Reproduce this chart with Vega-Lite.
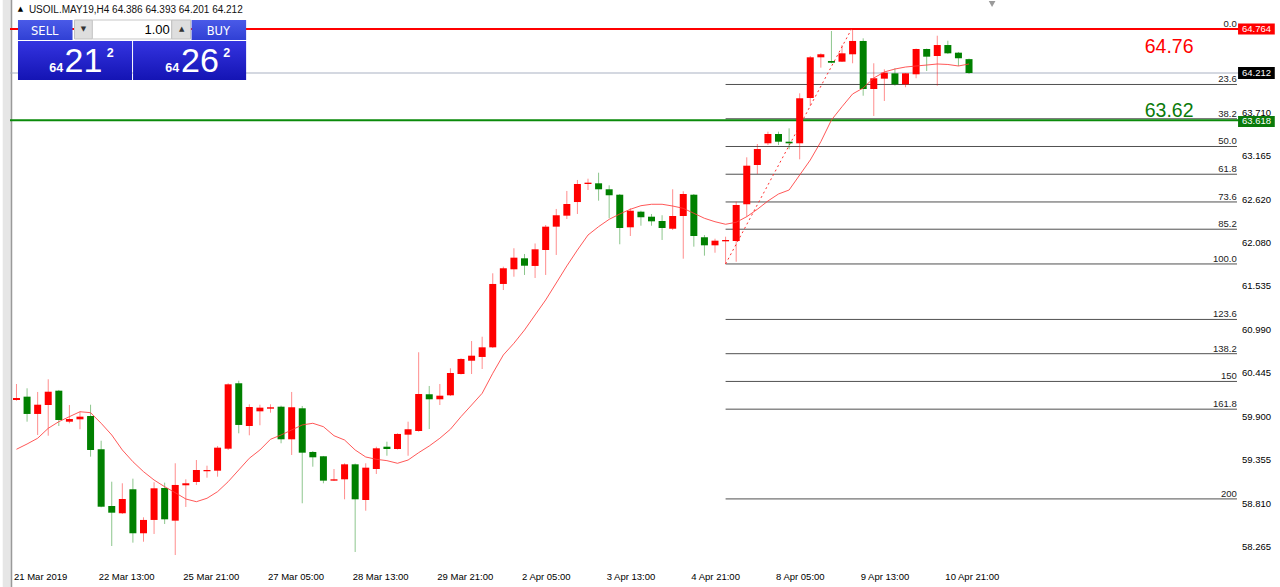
{
"$schema": "https://vega.github.io/schema/vega-lite/v6.json",
"width": 1232, "height": 570,
"autosize": {"type": "none"},
"padding": {"left": 10, "top": 0, "right": 38, "bottom": 17},
"background": "#ffffff",
"view": {"stroke": null},
"config": {"font": "Liberation Sans"},
"data": {"values": [{}]},
"datasets": {
"candles": [
{"i":0,"o":60.109,"h":60.310,"l":60.100,"c":60.134,"ma":59.491},
{"i":1,"o":60.151,"h":60.256,"l":59.837,"c":59.934,"ma":59.557},
{"i":2,"o":59.934,"h":60.210,"l":59.670,"c":60.050,"ma":59.629},
{"i":3,"o":60.046,"h":60.369,"l":59.661,"c":60.213,"ma":59.754},
{"i":4,"o":60.226,"h":60.235,"l":59.783,"c":59.858,"ma":59.837},
{"i":5,"o":59.837,"h":60.046,"l":59.817,"c":59.871,"ma":59.900},
{"i":6,"o":59.867,"h":59.962,"l":59.742,"c":59.900,"ma":59.962},
{"i":7,"o":59.908,"h":60.050,"l":59.398,"c":59.482,"ma":59.950},
{"i":8,"o":59.491,"h":59.598,"l":58.763,"c":58.770,"ma":59.817},
{"i":9,"o":58.779,"h":59.084,"l":58.277,"c":58.695,"ma":59.670},
{"i":10,"o":58.688,"h":59.064,"l":58.679,"c":58.867,"ma":59.482},
{"i":11,"o":58.989,"h":59.122,"l":58.319,"c":58.437,"ma":59.335},
{"i":12,"o":58.437,"h":58.637,"l":58.331,"c":58.604,"ma":59.210},
{"i":13,"o":58.604,"h":59.077,"l":58.428,"c":59.001,"ma":59.105},
{"i":14,"o":59.005,"h":59.072,"l":58.553,"c":58.612,"ma":59.021},
{"i":15,"o":58.595,"h":59.315,"l":58.164,"c":59.043,"ma":58.946},
{"i":16,"o":59.039,"h":59.114,"l":58.767,"c":59.064,"ma":58.867},
{"i":17,"o":59.080,"h":59.356,"l":59.043,"c":59.231,"ma":58.833},
{"i":18,"o":59.215,"h":59.285,"l":59.134,"c":59.231,"ma":58.876},
{"i":19,"o":59.222,"h":59.532,"l":59.147,"c":59.511,"ma":58.959},
{"i":20,"o":59.498,"h":60.319,"l":59.482,"c":60.306,"ma":59.084},
{"i":21,"o":60.319,"h":60.351,"l":59.691,"c":59.796,"ma":59.231},
{"i":22,"o":59.783,"h":60.055,"l":59.666,"c":60.021,"ma":59.378},
{"i":23,"o":59.967,"h":60.050,"l":59.792,"c":60.013,"ma":59.482},
{"i":24,"o":60.000,"h":60.055,"l":59.950,"c":60.018,"ma":59.616},
{"i":25,"o":60.025,"h":60.038,"l":59.566,"c":59.616,"ma":59.670},
{"i":26,"o":59.616,"h":60.210,"l":59.419,"c":60.018,"ma":59.733},
{"i":27,"o":60.005,"h":60.034,"l":58.813,"c":59.448,"ma":59.796},
{"i":28,"o":59.457,"h":59.469,"l":59.272,"c":59.390,"ma":59.817},
{"i":29,"o":59.403,"h":59.407,"l":59.064,"c":59.097,"ma":59.774},
{"i":30,"o":59.097,"h":59.243,"l":59.093,"c":59.114,"ma":59.661},
{"i":31,"o":59.114,"h":59.315,"l":58.863,"c":59.302,"ma":59.607},
{"i":32,"o":59.302,"h":59.312,"l":58.202,"c":58.863,"ma":59.482},
{"i":33,"o":58.854,"h":59.315,"l":58.720,"c":59.260,"ma":59.394},
{"i":34,"o":59.243,"h":59.523,"l":59.181,"c":59.503,"ma":59.365},
{"i":35,"o":59.523,"h":59.586,"l":59.410,"c":59.494,"ma":59.348},
{"i":36,"o":59.494,"h":59.691,"l":59.488,"c":59.683,"ma":59.315},
{"i":37,"o":59.674,"h":59.837,"l":59.410,"c":59.742,"ma":59.356},
{"i":38,"o":59.720,"h":60.708,"l":59.711,"c":60.184,"ma":59.448},
{"i":39,"o":60.181,"h":60.285,"l":59.745,"c":60.118,"ma":59.532},
{"i":40,"o":60.118,"h":60.310,"l":60.046,"c":60.163,"ma":59.629},
{"i":41,"o":60.168,"h":60.507,"l":60.159,"c":60.448,"ma":59.742},
{"i":42,"o":60.435,"h":60.632,"l":60.429,"c":60.624,"ma":59.900},
{"i":43,"o":60.602,"h":60.849,"l":60.435,"c":60.665,"ma":60.046},
{"i":44,"o":60.649,"h":60.903,"l":60.498,"c":60.770,"ma":60.193},
{"i":45,"o":60.770,"h":61.699,"l":60.762,"c":61.565,"ma":60.444},
{"i":46,"o":61.565,"h":61.782,"l":61.489,"c":61.762,"ma":60.674},
{"i":47,"o":61.749,"h":62.013,"l":61.656,"c":61.895,"ma":60.821},
{"i":48,"o":61.887,"h":61.941,"l":61.678,"c":61.794,"ma":60.987},
{"i":49,"o":61.791,"h":62.073,"l":61.640,"c":62.000,"ma":61.176},
{"i":50,"o":61.991,"h":62.305,"l":61.678,"c":62.284,"ma":61.364},
{"i":51,"o":62.284,"h":62.506,"l":61.929,"c":62.427,"ma":61.577},
{"i":52,"o":62.422,"h":62.732,"l":62.380,"c":62.568,"ma":61.791},
{"i":53,"o":62.593,"h":62.870,"l":62.443,"c":62.819,"ma":61.991},
{"i":54,"o":62.819,"h":62.886,"l":62.744,"c":62.836,"ma":62.179},
{"i":55,"o":62.828,"h":62.961,"l":62.610,"c":62.753,"ma":62.284},
{"i":56,"o":62.753,"h":62.803,"l":62.389,"c":62.678,"ma":62.376},
{"i":57,"o":62.685,"h":62.694,"l":62.063,"c":62.267,"ma":62.443},
{"i":58,"o":62.276,"h":62.514,"l":62.167,"c":62.484,"ma":62.502},
{"i":59,"o":62.472,"h":62.484,"l":62.296,"c":62.402,"ma":62.547},
{"i":60,"o":62.409,"h":62.443,"l":62.296,"c":62.351,"ma":62.565},
{"i":61,"o":62.355,"h":62.427,"l":62.117,"c":62.267,"ma":62.565},
{"i":62,"o":62.258,"h":62.753,"l":62.242,"c":62.418,"ma":62.543},
{"i":63,"o":62.418,"h":62.728,"l":61.882,"c":62.694,"ma":62.514},
{"i":64,"o":62.685,"h":62.694,"l":62.033,"c":62.167,"ma":62.452},
{"i":65,"o":62.151,"h":62.179,"l":61.920,"c":62.050,"ma":62.389},
{"i":66,"o":62.050,"h":62.133,"l":61.957,"c":62.108,"ma":62.346},
{"i":67,"o":62.100,"h":62.158,"l":61.816,"c":62.117,"ma":62.314},
{"i":68,"o":62.104,"h":62.597,"l":61.844,"c":62.556,"ma":62.339},
{"i":69,"o":62.565,"h":63.154,"l":62.409,"c":63.049,"ma":62.409},
{"i":70,"o":63.058,"h":63.321,"l":62.945,"c":63.258,"ma":62.502},
{"i":71,"o":63.330,"h":63.476,"l":63.309,"c":63.447,"ma":62.606},
{"i":72,"o":63.447,"h":63.476,"l":63.309,"c":63.350,"ma":62.694},
{"i":73,"o":63.350,"h":63.518,"l":63.255,"c":63.330,"ma":62.744},
{"i":74,"o":63.330,"h":63.957,"l":63.129,"c":63.895,"ma":62.932},
{"i":75,"o":63.898,"h":64.425,"l":63.798,"c":64.409,"ma":63.120},
{"i":76,"o":64.409,"h":64.459,"l":64.279,"c":64.447,"ma":63.350},
{"i":77,"o":64.363,"h":64.739,"l":64.334,"c":64.341,"ma":63.622},
{"i":78,"o":64.354,"h":64.563,"l":64.350,"c":64.459,"ma":63.789},
{"i":79,"o":64.447,"h":64.764,"l":64.334,"c":64.614,"ma":63.949},
{"i":80,"o":64.614,"h":64.647,"l":63.927,"c":64.011,"ma":64.024},
{"i":81,"o":64.011,"h":64.334,"l":63.673,"c":64.146,"ma":64.149},
{"i":82,"o":64.141,"h":64.258,"l":63.861,"c":64.216,"ma":64.225},
{"i":83,"o":64.208,"h":64.271,"l":64.053,"c":64.070,"ma":64.262},
{"i":84,"o":64.070,"h":64.212,"l":64.033,"c":64.208,"ma":64.287},
{"i":85,"o":64.196,"h":64.519,"l":64.146,"c":64.513,"ma":64.300},
{"i":86,"o":64.513,"h":64.519,"l":64.237,"c":64.417,"ma":64.312},
{"i":87,"o":64.425,"h":64.680,"l":64.053,"c":64.563,"ma":64.325},
{"i":88,"o":64.563,"h":64.617,"l":64.450,"c":64.459,"ma":64.319},
{"i":89,"o":64.467,"h":64.476,"l":64.300,"c":64.397,"ma":64.300},
{"i":90,"o":64.386,"h":64.393,"l":64.201,"c":64.212,"ma":64.325}
],
"fib": [
{"lvl":"0.0","v":64.764},{"lvl":"23.6","v":64.068},{"lvl":"38.2","v":63.638},{"lvl":"50.0","v":63.290},
{"lvl":"61.8","v":62.942},{"lvl":"73.6","v":62.594},{"lvl":"85.2","v":62.252},{"lvl":"100.0","v":61.816},
{"lvl":"123.6","v":61.120},{"lvl":"138.2","v":60.690},{"lvl":"150","v":60.342},{"lvl":"161.8","v":59.994},
{"lvl":"200","v":58.868}
],
"yticks": [
{"v":58.265,"t":"58.265"},{"v":58.81,"t":"58.810"},{"v":59.355,"t":"59.355"},{"v":59.9,"t":"59.900"},
{"v":60.445,"t":"60.445"},{"v":60.99,"t":"60.990"},{"v":61.535,"t":"61.535"},{"v":62.08,"t":"62.080"},
{"v":62.62,"t":"62.620"},{"v":63.165,"t":"63.165"},{"v":63.71,"t":"63.710"}
],
"xticks": [
{"i":0,"t":"21 Mar 2019"},{"i":8,"t":"22 Mar 13:00"},{"i":16,"t":"25 Mar 21:00"},{"i":24,"t":"27 Mar 05:00"},
{"i":32,"t":"28 Mar 13:00"},{"i":40,"t":"29 Mar 21:00"},{"i":48,"t":"2 Apr 05:00"},{"i":56,"t":"3 Apr 13:00"},
{"i":64,"t":"4 Apr 21:00"},{"i":72,"t":"8 Apr 05:00"},{"i":80,"t":"9 Apr 13:00"},{"i":88,"t":"10 Apr 21:00"}
]
},
"layer": [
{"mark": {"type": "rect", "color": "#e6e6e6"},
 "encoding": {"x": {"datum": -1.3, "scale": {"domain": [-0.14, 115.32], "nice": false, "zero": false}, "axis": null}, "x2": {"datum": -0.5},
  "y": {"datum": 65.128, "scale": {"domain": [57.976, 65.128], "nice": false, "zero": false}, "axis": null}, "y2": {"datum": 57.763}}},
{"mark": {"type": "rule", "color": "#9a9a9a", "strokeWidth": 1.5},
 "encoding": {"x": {"datum": -0.47, "scale": {"domain": [-0.14, 115.32], "nice": false, "zero": false}, "axis": null},
  "y": {"datum": 65.128, "scale": {"domain": [57.976, 65.128], "nice": false, "zero": false}, "axis": null}, "y2": {"datum": 57.763}}},
{"data": {"name": "yticks"}, "mark": {"type": "text", "align": "left", "baseline": "middle", "dx": 5, "fontSize": 9.5, "color": "#000000"},
 "encoding": {"x": {"datum": 115.32, "scale": {"domain": [-0.14, 115.32], "nice": false, "zero": false}, "axis": null},
  "y": {"field": "v", "type": "quantitative", "scale": {"domain": [57.976, 65.128], "nice": false, "zero": false}, "axis": null},
  "text": {"field": "t"}}},
{"data": {"name": "xticks"}, "mark": {"type": "text", "align": "left", "baseline": "top", "dx": -2.5, "dy": 2, "fontSize": 9.5, "color": "#000000"},
 "encoding": {"x": {"field": "i", "type": "quantitative", "scale": {"domain": [-0.14, 115.32], "nice": false, "zero": false}, "axis": null},
  "y": {"datum": 57.976, "scale": {"domain": [57.976, 65.128], "nice": false, "zero": false}, "axis": null},
  "text": {"field": "t"}}},
{"data": {"name": "fib"}, "mark": {"type": "rule", "color": "#505050", "strokeWidth": 1},
 "encoding": {"x": {"datum": 67, "scale": {"domain": [-0.14, 115.32], "nice": false, "zero": false}, "axis": null}, "x2": {"datum": 115.32},
  "y": {"field": "v", "type": "quantitative", "scale": {"domain": [57.976, 65.128], "nice": false, "zero": false}, "axis": null}}},
{"mark": {"type": "rule", "color": "#a9b1c2", "strokeWidth": 1},
 "encoding": {"y": {"datum": 64.212, "scale": {"domain": [57.976, 65.128], "nice": false, "zero": false}, "axis": null}}},
{"mark": {"type": "rule", "color": "#0a8a0a", "strokeWidth": 2},
 "encoding": {"y": {"datum": 63.618, "scale": {"domain": [57.976, 65.128], "nice": false, "zero": false}, "axis": null}}},
{"mark": {"type": "rule", "color": "#ff0000", "strokeWidth": 2},
 "encoding": {"y": {"datum": 64.764, "scale": {"domain": [57.976, 65.128], "nice": false, "zero": false}, "axis": null}}},
{"mark": {"type": "rule", "color": "#ff3030", "strokeWidth": 1, "strokeDash": [2, 3]},
 "encoding": {"x": {"datum": 67, "scale": {"domain": [-0.14, 115.32], "nice": false, "zero": false}, "axis": null}, "x2": {"datum": 78.9},
  "y": {"datum": 61.816, "scale": {"domain": [57.976, 65.128], "nice": false, "zero": false}, "axis": null}, "y2": {"datum": 64.764}}},
{"data": {"name": "candles"}, "mark": {"type": "rule", "strokeWidth": 1, "opacity": 0.45},
 "encoding": {
  "x": {"field": "i", "type": "quantitative", "scale": {"domain": [-0.14, 115.32], "nice": false, "zero": false}, "axis": null},
  "y": {"field": "l", "type": "quantitative", "scale": {"domain": [57.976, 65.128], "nice": false, "zero": false}, "axis": null},
  "y2": {"field": "h"},
  "color": {"condition": {"test": "datum.c >= datum.o", "value": "#ff0000"}, "value": "#008000"}}},
{"data": {"name": "candles"}, "mark": {"type": "bar", "width": 7},
 "encoding": {
  "x": {"field": "i", "type": "quantitative", "scale": {"domain": [-0.14, 115.32], "nice": false, "zero": false}, "axis": null},
  "y": {"field": "o", "type": "quantitative", "scale": {"domain": [57.976, 65.128], "nice": false, "zero": false}, "axis": null},
  "y2": {"field": "c"},
  "color": {"condition": {"test": "datum.c >= datum.o", "value": "#ff0000"}, "value": "#008000"}}},
{"data": {"name": "candles"}, "mark": {"type": "line", "color": "#ff3b3b", "strokeWidth": 1, "opacity": 0.85},
 "encoding": {
  "x": {"field": "i", "type": "quantitative", "scale": {"domain": [-0.14, 115.32], "nice": false, "zero": false}, "axis": null},
  "y": {"field": "ma", "type": "quantitative", "scale": {"domain": [57.976, 65.128], "nice": false, "zero": false}, "axis": null}}},
{"data": {"name": "fib"}, "mark": {"type": "text", "align": "right", "baseline": "alphabetic", "dy": -2, "fontSize": 9.5, "color": "#222222"},
 "encoding": {"x": {"datum": 115.3, "scale": {"domain": [-0.14, 115.32], "nice": false, "zero": false}, "axis": null},
  "y": {"field": "v", "type": "quantitative", "scale": {"domain": [57.976, 65.128], "nice": false, "zero": false}, "axis": null},
  "text": {"field": "lvl"}}},
{"mark": {"type": "text", "align": "left", "baseline": "alphabetic", "fontSize": 19.5, "color": "#ff0000", "text": "64.76"},
 "encoding": {"x": {"datum": 106.6, "scale": {"domain": [-0.14, 115.32], "nice": false, "zero": false}, "axis": null},
  "y": {"datum": 64.457, "scale": {"domain": [57.976, 65.128], "nice": false, "zero": false}, "axis": null}}},
{"mark": {"type": "text", "align": "left", "baseline": "alphabetic", "fontSize": 19.5, "color": "#0a7a0a", "text": "63.62"},
 "encoding": {"x": {"datum": 106.6, "scale": {"domain": [-0.14, 115.32], "nice": false, "zero": false}, "axis": null},
  "y": {"datum": 63.664, "scale": {"domain": [57.976, 65.128], "nice": false, "zero": false}, "axis": null}}},
{"mark": {"type": "rect", "color": {"gradient": "linear", "x1": 0, "y1": 0, "x2": 0, "y2": 1, "stops": [{"offset": 0, "color": "#4a5ae8"}, {"offset": 1, "color": "#3040d4"}]}},
 "encoding": {"x": {"datum": 0.142, "scale": {"domain": [-0.14, 115.32], "nice": false, "zero": false}, "axis": null}, "x2": {"datum": 5.296},
  "y": {"datum": 64.877, "scale": {"domain": [57.976, 65.128], "nice": false, "zero": false}, "axis": null}, "y2": {"datum": 64.626}}},
{"mark": {"type": "rect", "color": {"gradient": "linear", "x1": 0, "y1": 0, "x2": 0, "y2": 1, "stops": [{"offset": 0, "color": "#4a5ae8"}, {"offset": 1, "color": "#3040d4"}]}},
 "encoding": {"x": {"datum": 16.542, "scale": {"domain": [-0.14, 115.32], "nice": false, "zero": false}, "axis": null}, "x2": {"datum": 21.697},
  "y": {"datum": 64.877, "scale": {"domain": [57.976, 65.128], "nice": false, "zero": false}, "axis": null}, "y2": {"datum": 64.626}}},
{"mark": {"type": "rect", "fill": "#dedede", "stroke": "#c0c0c0", "strokeWidth": 1},
 "encoding": {"x": {"datum": 5.483, "scale": {"domain": [-0.14, 115.32], "nice": false, "zero": false}, "axis": null}, "x2": {"datum": 7.17},
  "y": {"datum": 64.877, "scale": {"domain": [57.976, 65.128], "nice": false, "zero": false}, "axis": null}, "y2": {"datum": 64.639}}},
{"mark": {"type": "rect", "fill": "#ffffff", "stroke": "#c8c8c8", "strokeWidth": 1},
 "encoding": {"x": {"datum": 7.17, "scale": {"domain": [-0.14, 115.32], "nice": false, "zero": false}, "axis": null}, "x2": {"datum": 14.668},
  "y": {"datum": 64.877, "scale": {"domain": [57.976, 65.128], "nice": false, "zero": false}, "axis": null}, "y2": {"datum": 64.639}}},
{"mark": {"type": "rect", "fill": "#dedede", "stroke": "#c0c0c0", "strokeWidth": 1},
 "encoding": {"x": {"datum": 14.668, "scale": {"domain": [-0.14, 115.32], "nice": false, "zero": false}, "axis": null}, "x2": {"datum": 16.448},
  "y": {"datum": 64.877, "scale": {"domain": [57.976, 65.128], "nice": false, "zero": false}, "axis": null}, "y2": {"datum": 64.639}}},
{"mark": {"type": "rect", "color": {"gradient": "linear", "x1": 0, "y1": 0, "x2": 0, "y2": 1, "stops": [{"offset": 0, "color": "#3434e0"}, {"offset": 1, "color": "#1414b4"}]}},
 "encoding": {"x": {"datum": 0.142, "scale": {"domain": [-0.14, 115.32], "nice": false, "zero": false}, "axis": null}, "x2": {"datum": 10.919},
  "y": {"datum": 64.614, "scale": {"domain": [57.976, 65.128], "nice": false, "zero": false}, "axis": null}, "y2": {"datum": 64.124}}},
{"mark": {"type": "rect", "color": {"gradient": "linear", "x1": 0, "y1": 0, "x2": 0, "y2": 1, "stops": [{"offset": 0, "color": "#3434e0"}, {"offset": 1, "color": "#1414b4"}]}},
 "encoding": {"x": {"datum": 11.013, "scale": {"domain": [-0.14, 115.32], "nice": false, "zero": false}, "axis": null}, "x2": {"datum": 21.697},
  "y": {"datum": 64.614, "scale": {"domain": [57.976, 65.128], "nice": false, "zero": false}, "axis": null}, "y2": {"datum": 64.124}}},
{"mark": {"type": "text", "align": "center", "baseline": "alphabetic", "fontSize": 11.5, "color": "#ffffff", "text": "SELL", "font": "DejaVu Sans"},
 "encoding": {"x": {"datum": 2.672, "scale": {"domain": [-0.14, 115.32], "nice": false, "zero": false}, "axis": null},
  "y": {"datum": 64.689, "scale": {"domain": [57.976, 65.128], "nice": false, "zero": false}, "axis": null}}},
{"mark": {"type": "text", "align": "center", "baseline": "alphabetic", "fontSize": 11.5, "color": "#ffffff", "text": "BUY", "font": "DejaVu Sans"},
 "encoding": {"x": {"datum": 19.073, "scale": {"domain": [-0.14, 115.32], "nice": false, "zero": false}, "axis": null},
  "y": {"datum": 64.689, "scale": {"domain": [57.976, 65.128], "nice": false, "zero": false}, "axis": null}}},
{"mark": {"type": "text", "align": "center", "baseline": "middle", "fontSize": 7, "color": "#333333", "text": "▼", "font": "DejaVu Sans"},
 "encoding": {"x": {"datum": 6.327, "scale": {"domain": [-0.14, 115.32], "nice": false, "zero": false}, "axis": null},
  "y": {"datum": 64.77, "scale": {"domain": [57.976, 65.128], "nice": false, "zero": false}, "axis": null}}},
{"mark": {"type": "text", "align": "center", "baseline": "middle", "fontSize": 7, "color": "#333333", "text": "▲", "font": "DejaVu Sans"},
 "encoding": {"x": {"datum": 15.606, "scale": {"domain": [-0.14, 115.32], "nice": false, "zero": false}, "axis": null},
  "y": {"datum": 64.77, "scale": {"domain": [57.976, 65.128], "nice": false, "zero": false}, "axis": null}}},
{"mark": {"type": "text", "align": "right", "baseline": "alphabetic", "fontSize": 13, "color": "#000000", "text": "1.00"},
 "encoding": {"x": {"datum": 14.48, "scale": {"domain": [-0.14, 115.32], "nice": false, "zero": false}, "axis": null},
  "y": {"datum": 64.701, "scale": {"domain": [57.976, 65.128], "nice": false, "zero": false}, "axis": null}}},
{"mark": {"type": "text", "align": "center", "baseline": "alphabetic", "fontSize": 12.5, "fontWeight": "bold", "color": "#ffffff", "text": "64"},
 "encoding": {"x": {"datum": 3.75, "scale": {"domain": [-0.14, 115.32], "nice": false, "zero": false}, "axis": null},
  "y": {"datum": 64.225, "scale": {"domain": [57.976, 65.128], "nice": false, "zero": false}, "axis": null}}},
{"mark": {"type": "text", "align": "center", "baseline": "alphabetic", "fontSize": 34, "color": "#ffffff", "text": "21"},
 "encoding": {"x": {"datum": 6.327, "scale": {"domain": [-0.14, 115.32], "nice": false, "zero": false}, "axis": null},
  "y": {"datum": 64.225, "scale": {"domain": [57.976, 65.128], "nice": false, "zero": false}, "axis": null}}},
{"mark": {"type": "text", "align": "center", "baseline": "alphabetic", "fontSize": 12.5, "fontWeight": "bold", "color": "#ffffff", "text": "2"},
 "encoding": {"x": {"datum": 8.856, "scale": {"domain": [-0.14, 115.32], "nice": false, "zero": false}, "axis": null},
  "y": {"datum": 64.413, "scale": {"domain": [57.976, 65.128], "nice": false, "zero": false}, "axis": null}}},
{"mark": {"type": "text", "align": "center", "baseline": "alphabetic", "fontSize": 12.5, "fontWeight": "bold", "color": "#ffffff", "text": "64"},
 "encoding": {"x": {"datum": 14.714, "scale": {"domain": [-0.14, 115.32], "nice": false, "zero": false}, "axis": null},
  "y": {"datum": 64.225, "scale": {"domain": [57.976, 65.128], "nice": false, "zero": false}, "axis": null}}},
{"mark": {"type": "text", "align": "center", "baseline": "alphabetic", "fontSize": 34, "color": "#ffffff", "text": "26"},
 "encoding": {"x": {"datum": 17.339, "scale": {"domain": [-0.14, 115.32], "nice": false, "zero": false}, "axis": null},
  "y": {"datum": 64.225, "scale": {"domain": [57.976, 65.128], "nice": false, "zero": false}, "axis": null}}},
{"mark": {"type": "text", "align": "center", "baseline": "alphabetic", "fontSize": 12.5, "fontWeight": "bold", "color": "#ffffff", "text": "2"},
 "encoding": {"x": {"datum": 19.869, "scale": {"domain": [-0.14, 115.32], "nice": false, "zero": false}, "axis": null},
  "y": {"datum": 64.413, "scale": {"domain": [57.976, 65.128], "nice": false, "zero": false}, "axis": null}}},
{"mark": {"type": "text", "align": "center", "baseline": "middle", "fontSize": 7, "color": "#000000", "text": "▲", "font": "DejaVu Sans"},
 "encoding": {"x": {"datum": 0.375, "scale": {"domain": [-0.14, 115.32], "nice": false, "zero": false}, "axis": null},
  "y": {"datum": 65.015, "scale": {"domain": [57.976, 65.128], "nice": false, "zero": false}, "axis": null}}},
{"mark": {"type": "text", "align": "left", "baseline": "alphabetic", "fontSize": 10, "color": "#111111", "text": "USOIL.MAY19,H4  64.386 64.393 64.201 64.212"},
 "encoding": {"x": {"datum": 1.172, "scale": {"domain": [-0.14, 115.32], "nice": false, "zero": false}, "axis": null},
  "y": {"datum": 64.965, "scale": {"domain": [57.976, 65.128], "nice": false, "zero": false}, "axis": null}}},
{"mark": {"type": "point", "shape": "triangle-down", "filled": true, "color": "#9a9a9a", "size": 45, "opacity": 1},
 "encoding": {"x": {"datum": 92.18, "scale": {"domain": [-0.14, 115.32], "nice": false, "zero": false}, "axis": null},
  "y": {"datum": 65.078, "scale": {"domain": [57.976, 65.128], "nice": false, "zero": false}, "axis": null}}},
{"mark": {"type": "rect", "color": "#ff0000"},
 "encoding": {"x": {"datum": 115.42, "scale": {"domain": [-0.14, 115.32], "nice": false, "zero": false}, "axis": null}, "x2": {"datum": 118.89},
  "y": {"datum": 64.833, "scale": {"domain": [57.976, 65.128], "nice": false, "zero": false}, "axis": null}, "y2": {"datum": 64.695}}},
{"mark": {"type": "rect", "color": "#000000"},
 "encoding": {"x": {"datum": 115.42, "scale": {"domain": [-0.14, 115.32], "nice": false, "zero": false}, "axis": null}, "x2": {"datum": 118.89},
  "y": {"datum": 64.287, "scale": {"domain": [57.976, 65.128], "nice": false, "zero": false}, "axis": null}, "y2": {"datum": 64.137}}},
{"mark": {"type": "rect", "color": "#0a7a0a"},
 "encoding": {"x": {"datum": 115.42, "scale": {"domain": [-0.14, 115.32], "nice": false, "zero": false}, "axis": null}, "x2": {"datum": 118.89},
  "y": {"datum": 63.673, "scale": {"domain": [57.976, 65.128], "nice": false, "zero": false}, "axis": null}, "y2": {"datum": 63.534}}},
{"mark": {"type": "text", "align": "left", "baseline": "middle", "fontSize": 9.5, "color": "#ffffff", "text": "64.764"},
 "encoding": {"x": {"datum": 115.79, "scale": {"domain": [-0.14, 115.32], "nice": false, "zero": false}, "axis": null},
  "y": {"datum": 64.764, "scale": {"domain": [57.976, 65.128], "nice": false, "zero": false}, "axis": null}}},
{"mark": {"type": "text", "align": "left", "baseline": "middle", "fontSize": 9.5, "color": "#ffffff", "text": "64.212"},
 "encoding": {"x": {"datum": 115.79, "scale": {"domain": [-0.14, 115.32], "nice": false, "zero": false}, "axis": null},
  "y": {"datum": 64.212, "scale": {"domain": [57.976, 65.128], "nice": false, "zero": false}, "axis": null}}},
{"mark": {"type": "text", "align": "left", "baseline": "middle", "fontSize": 9.5, "color": "#ffffff", "text": "63.618"},
 "encoding": {"x": {"datum": 115.79, "scale": {"domain": [-0.14, 115.32], "nice": false, "zero": false}, "axis": null},
  "y": {"datum": 63.604, "scale": {"domain": [57.976, 65.128], "nice": false, "zero": false}, "axis": null}}}
]
}
